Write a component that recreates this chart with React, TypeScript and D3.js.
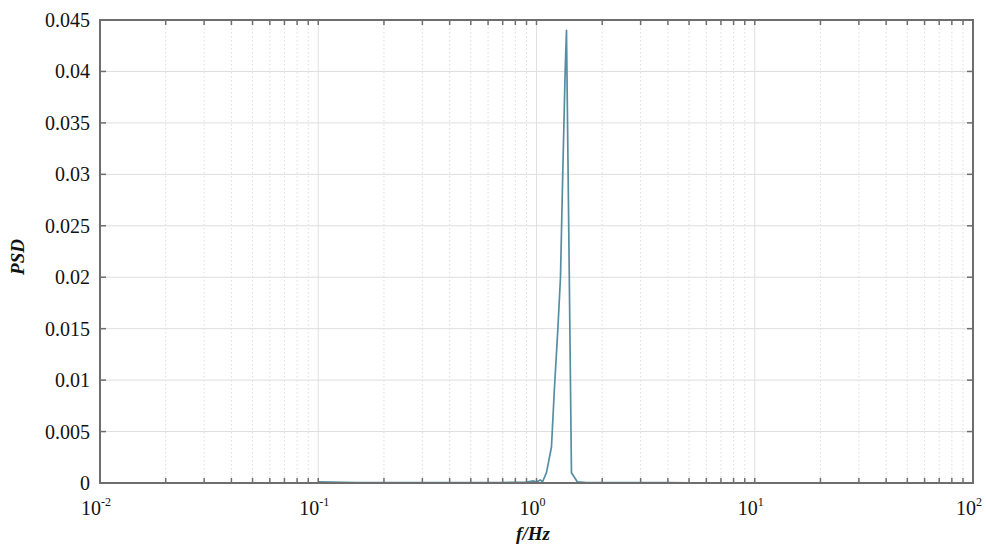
import React from "react";
import * as d3 from "d3";

// frequency (Hz) and PSD samples
const freqs = [0.1, 0.15, 0.2, 0.3, 0.4, 0.5, 0.6, 0.7, 0.8, 0.9, 0.97, 1.0, 1.04, 1.065, 1.111, 1.171, 1.209, 1.252, 1.288, 1.319, 1.353, 1.372, 1.41, 1.446, 1.54, 1.7, 2.0, 2.5, 3, 4, 5, 7, 10, 15, 20, 30, 50, 70, 100];
const psd = [0.0001, 0.00005, 0.00004, 0.00003, 0.00003, 0.00004, 0.00004, 0.00005, 0.00006, 0.00008, 0.0002, 0.0001, 0.0003, 0.0001, 0.001, 0.0035, 0.0093, 0.0149, 0.02, 0.03, 0.04, 0.044, 0.022, 0.001, 0.0001, 0.00005, 0.00004, 0.00003, 0.00005, 0.00003, 0.00002, 0.00002, 0.00002, 0.00002, 0.00002, 0.00001, 0.00001, 0.00001, 0.00001];

const yTicks = [0, 0.005, 0.01, 0.015, 0.02, 0.025, 0.03, 0.035, 0.04, 0.045];
const yTickLabels = ["0", "0.005", "0.01", "0.015", "0.02", "0.025", "0.03", "0.035", "0.04", "0.045"];
const xDecades = [0.01, 0.1, 1, 10, 100];
const xExponents = ["-2", "-1", "0", "1", "2"];

export default function App() {
  const width = 986;
  const height = 545;
  const left = 100, right = 973, top = 20, bottom = 483;

  const x = d3.scaleLog().domain([0.01, 100]).range([left, right]);
  const y = d3.scaleLinear().domain([0, 0.045]).range([bottom, top]);

  // minor ticks 2..9 in each decade
  const minor: number[] = [];
  xDecades.slice(0, -1).forEach((d) => {
    for (let k = 2; k <= 9; k++) minor.push(d * k);
  });

  const line = d3
    .line<number>()
    .x((d, i) => x(freqs[i]))
    .y((d) => y(d));

  const fontStyle = { fontFamily: '"Liberation Serif", "DejaVu Serif", serif' };
  const frame = "#6e6e6e";

  return (
    <svg width={width} height={height} style={{ display: "block", position: "absolute", left: 0, top: 0 }}>
      <rect width={width} height={height} fill="#fff" />

      {/* grid */}
      {minor.map((m) => (
        <line key={"m" + m} x1={x(m)} x2={x(m)} y1={top} y2={bottom} stroke="#dcdcdc" strokeWidth={1} strokeDasharray="1.5,2.5" />
      ))}
      {xDecades.map((d) => (
        <line key={"M" + d} x1={x(d)} x2={x(d)} y1={top} y2={bottom} stroke="#e0e0e0" strokeWidth={1} />
      ))}
      {yTicks.map((t) => (
        <line key={"h" + t} x1={left} x2={right} y1={y(t)} y2={y(t)} stroke="#dedede" strokeWidth={1} />
      ))}

      {/* data */}
      <path d={line(psd) || ""} fill="none" stroke="#558ea3" strokeWidth={1.7} strokeLinejoin="round" />

      {/* ticks */}
      {minor.concat(xDecades).map((m) => (
        <g key={"t" + m}>
          <line x1={x(m)} x2={x(m)} y1={bottom} y2={bottom - 5} stroke={frame} strokeWidth={1.5} />
          <line x1={x(m)} x2={x(m)} y1={top} y2={top + 5} stroke={frame} strokeWidth={1.5} />
        </g>
      ))}
      {yTicks.map((t) => (
        <g key={"yt" + t}>
          <line x1={left} x2={left + 6} y1={y(t)} y2={y(t)} stroke={frame} strokeWidth={1.5} />
          <line x1={right} x2={right - 6} y1={y(t)} y2={y(t)} stroke={frame} strokeWidth={1.5} />
        </g>
      ))}

      {/* frame */}
      <rect x={left} y={top} width={right - left} height={bottom - top} fill="none" stroke={frame} strokeWidth={2} />

      {/* y tick labels */}
      {yTicks.map((t, i) => (
        <text key={"yl" + t} x={left - 10} y={y(t)} dy="0.35em" textAnchor="end" style={fontStyle} fontSize={20} fill="#111">
          {yTickLabels[i]}
        </text>
      ))}

      {/* x tick labels */}
      {xDecades.map((d, i) => (
        <text key={"xl" + d} x={x(d) - 4} y={515} textAnchor="middle" style={fontStyle} fontSize={20} fill="#111">
          10
          <tspan fontSize={12} dy={-9}>{xExponents[i]}</tspan>
        </text>
      ))}

      {/* axis titles */}
      <text x={533} y={540} textAnchor="middle" style={fontStyle} fontSize={19} fontStyle="italic" fontWeight="bold" fill="#111">
        f/Hz
      </text>
      <text
        transform={`translate(24,257) rotate(-90)`}
        textAnchor="middle"
        style={fontStyle}
        fontSize={19}
        fontStyle="italic"
        fontWeight="bold"
        fill="#111"
      >
        PSD
      </text>
    </svg>
  );
}
